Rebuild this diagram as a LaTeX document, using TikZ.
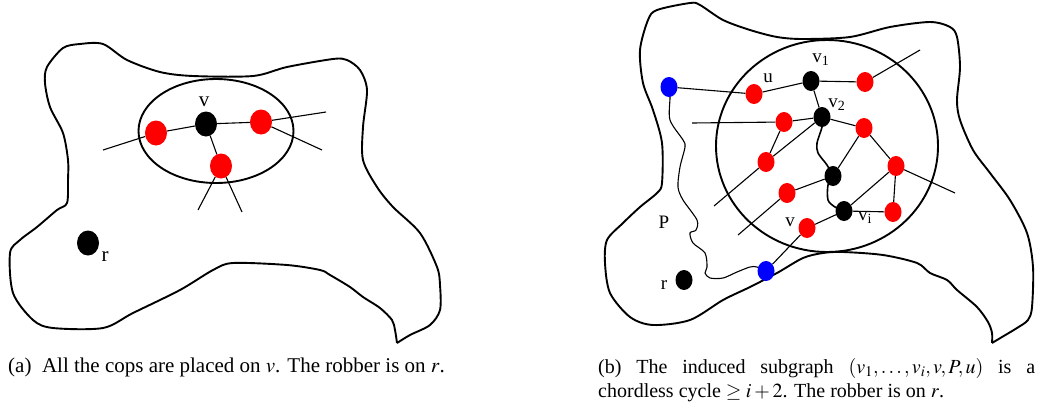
\documentclass[tikz,border=0pt]{standalone}
\usepackage{mathptmx}
\usepackage{fontspec}
\setmainfont{Liberation Serif}
\usetikzlibrary{shapes.geometric,backgrounds}
\begin{document}
\begin{tikzpicture}[x=1pt,y=-1pt,
  blob/.style={line width=1.9pt, line join=round},
  edge/.style={line width=1.1pt},
  wavy/.style={line width=1.6pt},
  zonestyle/.style={draw, ellipse, line width=1.9pt},
  dotA/.style={ellipse, inner sep=0pt, minimum width=22pt, minimum height=25pt},
  dotB/.style={ellipse, inner sep=0pt, minimum width=17pt, minimum height=20pt},
  cop/.style={fill=red},
  rob/.style={fill=black},
  ends/.style={fill=blue},
  lblA/.style={inner sep=0pt, font=\fontsize{21}{24}\selectfont},
  lblB/.style={inner sep=0pt, font=\fontsize{19}{22}\selectfont},
  captext/.style={inner sep=0pt, anchor=base west, font=\fontsize{20}{24}\selectfont}
]
\useasboundingbox (0,0) rectangle (1040,410);

% ---------------- (a) ----------------
\draw[blob] plot[smooth, tension=0.5] coordinates {
 (397,343) (395,330) (392,320) (380,308) (363,297) (350,287) (330,275) (320,270)
 (287,265) (233,263) (213,270) (180,290) (133,313) (103,328) (53,328) (33,320)
 (13,293) (10,253) (20,240) (37,227) (57,210) (67,203) (68,180) (68,160) (63,133)
 (50,107) (45,83) (47,67) (63,48) (80,44) (103,44) (127,60) (160,72) (193,76)
 (253,76) (287,67) (333,59) (347,60) (360,70) (367,90) (363,127) (363,160)
 (377,187) (393,207) (420,233) (437,267) (440,285) (440,310) (430,325) (410,335) (397,343)};

\node[zonestyle, minimum width=155pt, minimum height=104pt] (zone) at (216,131) {};

\node[dotA, rob] (v) at (206,124) {};
\node[dotA, cop] (c1) at (156,133) {};
\node[dotA, cop] (c2) at (261,122) {};
\node[dotA, cop] (c3) at (221,166) {};
\node[dotA, rob] (r) at (88,243) {};
\node[lblA] (lv) at (204,102) {v};
\node[lblA] (lr) at (105,257) {r};

\coordinate (a1) at (103,150);
\coordinate (a2) at (326,112);
\coordinate (a3) at (322,150);
\coordinate (a4) at (198,210);
\coordinate (a5) at (242,212);

\draw[edge] (a1) -- (c1);
\draw[edge] (c1) -- (v);
\draw[edge] (v) -- (c2);
\draw[edge] (c2) -- (a2);
\draw[edge] (c2) -- (a3);
\draw[edge] (v) -- (c3);
\draw[edge] (c3) -- (a4);
\draw[edge] (c3) -- (a5);

% ---------------- (b) ----------------
\draw[blob] plot[smooth, tension=0.5] coordinates {
 (992,343) (992,333) (988,322) (977,307) (957,290) (947,280) (930,273) (917,263)
 (883,255) (843,252) (823,253) (803,258) (777,273) (750,287) (723,300) (690,320)
 (653,325) (630,317) (610,293) (605,263) (607,240) (623,223) (640,207) (657,193)
 (662,183) (662,143) (653,110) (643,83) (640,50) (648,20) (657,10) (690,3) (700,5)
 (723,20) (750,30) (777,37) (803,39) (850,37) (890,27) (930,22) (950,27) (957,37)
 (960,67) (957,100) (960,120) (973,150) (990,173) (1010,200) (1027,233) (1033,267)
 (1032,307) (1028,320) (1017,328) (1002,337) (992,343)};

\node[zonestyle, minimum width=222pt, minimum height=212pt] (disk) at (827,146) {};

\node[dotB, ends] (b1) at (669,87) {};
\node[dotB, cop] (u) at (754,94) {};
\node[dotB, rob] (v1) at (811,81) {};
\node[dotB, cop] (d1) at (865,82) {};
\node[dotB, rob] (v2) at (822,117) {};
\node[dotB, cop] (d2) at (784,122) {};
\node[dotB, cop] (d3) at (864,128) {};
\node[dotB, cop] (d4) at (766,162) {};
\node[dotB, rob] (m) at (833,176) {};
\node[dotB, cop] (d5) at (896,166) {};
\node[dotB, cop] (d6) at (787,193) {};
\node[dotB, rob] (vi) at (844,211) {};
\node[dotB, cop] (d7) at (893,212) {};
\node[dotB, cop] (w) at (807,228) {};
\node[dotB, ends] (b2) at (766,271) {};
\node[dotB, rob] (rr) at (684,280) {};

\node[lblB] (lv1) at (821,60) {v\textsubscript{1}};
\node[lblB] (lu) at (768,78) {u};
\node[lblB] (lv2) at (837,105) {v\textsubscript{2}};
\node[lblB] (lvi) at (865,218) {v\textsubscript{i}};
\node[lblB] (lw) at (790,222) {v};
\node[lblB] (lP) at (664,222) {P};
\node[lblB] (lrr) at (664,285) {r};

\coordinate (e1) at (920,50);
\coordinate (e2) at (692,123);
\coordinate (e3) at (714,206);
\coordinate (e4) at (738,235);
\coordinate (e5) at (955,193);

\draw[edge] (b1) -- (u);
\draw[edge] (u) -- (v1);
\draw[edge] (v1) -- (d1);
\draw[edge] (d1) -- (e1);
\draw[edge] (v1) -- (v2);
\draw[edge] (e2) -- (d2);
\draw[edge] (d2) -- (v2);
\draw[edge] (v2) -- (d3);
\draw[edge] (v2) -- (d4);
\draw[edge] (d2) -- (d4);
\draw[edge] (d4) -- (e3);
\draw[edge] (m) -- (d3);
\draw[edge] (m) -- (d6);
\draw[edge] (d6) -- (e4);
\draw[edge] (d3) -- (d5);
\draw[edge] (d5) -- (e5);
\draw[edge] (d5) -- (d7);
\draw[edge] (vi) -- (d5);
\draw[edge] (vi) -- (d7);
\draw[edge] (vi) -- (w);
\draw[edge] (w) -- (b2);

\begin{scope}[on background layer]
\draw[wavy] plot[smooth] coordinates {(v2.center) (822,127) (817,143) (818,153) (827,165) (m.center)};
\draw[wavy] plot[smooth] coordinates {(m.center) (828,185) (828,200) (835,207) (vi.center)};
\draw[edge] plot[smooth, tension=0.5] coordinates {(b1.center) (670,97) (670,120) (683,140) (685,147)
  (680,167) (678,187) (683,200) (697,220) (696,230) (690,233) (693,243) (705,253) (707,267)
  (705,273) (710,278) (723,278) (737,272) (750,267) (757,267) (b2.center)};
\end{scope}

% ---------------- captions ----------------
\node[captext, font=\fontsize{21}{24}\selectfont] (capa) at (8,372) {(a)\ \ All the cops are placed on $v$. The robber is on $r$.};
\node[captext] (capb1) at (598,373) {\makebox[437pt][s]{(b) The induced subgraph $(v_1,\ldots,v_i,v,P,u)$ is a}};
\node[captext] (capb2) at (598,397) {chordless cycle $\geq i+2$. The robber is on $r$.};
\end{tikzpicture}
\end{document}
